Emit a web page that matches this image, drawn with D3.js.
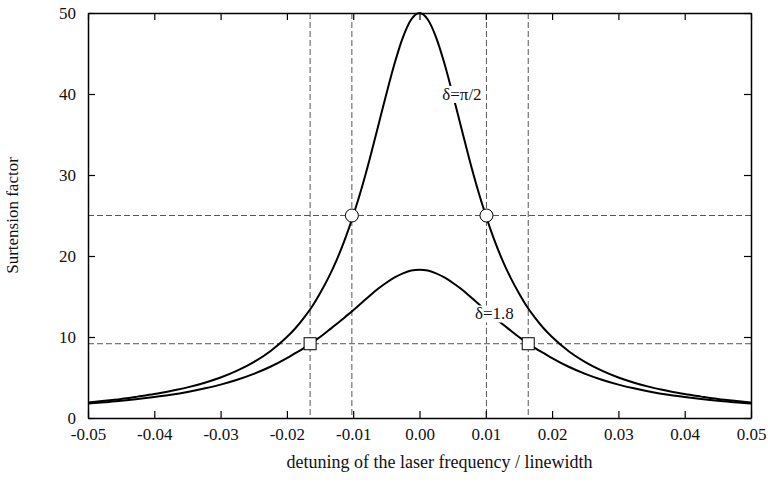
<!DOCTYPE html>
<html>
<head>
<meta charset="utf-8">
<script src="https://cdn.jsdelivr.net/npm/d3@7"></script>
<style>
  body { margin: 0; background: #fff; }
  text { font-family: "Liberation Serif", "Times New Roman", serif; fill: #111; }
</style>
</head>
<body>
<div id="chart"></div>
<script>
// detuning values (frequency / linewidth)
var detuning = [-0.05, -0.0475, -0.045, -0.0425, -0.04, -0.0375, -0.035, -0.0325, -0.03, -0.0275,
  -0.025, -0.0225, -0.02, -0.01875, -0.0175, -0.01625, -0.015, -0.01375, -0.0125, -0.01125,
  -0.01, -0.00875, -0.0075, -0.00625, -0.005, -0.00375, -0.0025, -0.00125, 0,
  0.00125, 0.0025, 0.00375, 0.005, 0.00625, 0.0075, 0.00875, 0.01,
  0.01125, 0.0125, 0.01375, 0.015, 0.01625, 0.0175, 0.01875, 0.02,
  0.0225, 0.025, 0.0275, 0.03, 0.0325, 0.035, 0.0375, 0.04, 0.0425, 0.045, 0.0475, 0.05];

// surtension for delta = pi/2
var surtPi2 = [1.92, 2.12, 2.35, 2.64, 2.95, 3.34, 3.78, 4.33, 5.0, 5.85,
  6.9, 8.25, 10.0, 11.05, 12.3, 13.7, 15.4, 17.3, 19.5, 22.05,
  25.0, 28.3, 32.0, 36.0, 40.0, 43.8, 47.0, 49.2, 50.0,
  49.2, 47.0, 43.8, 40.0, 36.0, 32.0, 28.3, 25.0,
  22.05, 19.5, 17.3, 15.4, 13.7, 12.3, 11.05, 10.0,
  8.25, 6.9, 5.85, 5.0, 4.33, 3.78, 3.34, 2.95, 2.64, 2.35, 2.12, 1.92];

// surtension for delta = 1.8
var surt18 = [1.78, 1.95, 2.13, 2.35, 2.6, 2.88, 3.22, 3.63, 4.12, 4.72,
  5.45, 6.33, 7.4, 8.0, 8.6, 9.3, 10.0, 10.8, 11.6, 12.45,
  13.3, 14.2, 15.1, 15.95, 16.7, 17.35, 17.85, 18.2, 18.3,
  18.2, 17.85, 17.35, 16.7, 15.95, 15.1, 14.2, 13.3,
  12.45, 11.6, 10.8, 10.0, 9.3, 8.6, 8.0, 7.4,
  6.33, 5.45, 4.72, 4.12, 3.63, 3.22, 2.88, 2.6, 2.35, 2.13, 1.95, 1.78];

// half-maximum markers
var halfPi2 = [[-0.0102, 25], [0.0101, 25]];
var half18 = [[-0.0165, 9.17], [0.0164, 9.17]];

var xTicks = [-0.05, -0.04, -0.03, -0.02, -0.01, 0, 0.01, 0.02, 0.03, 0.04, 0.05];
var xTickLabels = ["-0.05", "-0.04", "-0.03", "-0.02", "-0.01", "0.00", "0.01", "0.02", "0.03", "0.04", "0.05"];
var yTicks = [0, 10, 20, 30, 40, 50];

var W = 768, H = 485;
var margin = {top: 13, right: 17, bottom: 67, left: 88};
var width = W - margin.left - margin.right,
    height = H - margin.top - margin.bottom;

var x = d3.scaleLinear().domain([-0.05, 0.05]).range([0, width]);
var y = d3.scaleLinear().domain([0, 50]).range([height, 0]);

var svg = d3.select("#chart").append("svg")
  .attr("width", W)
  .attr("height", H)
  .append("g")
  .attr("transform", "translate(" + margin.left + "," + margin.top + ")");

//dashed guide lines through the half-maximum points
var guideX = [half18[0][0], halfPi2[0][0], halfPi2[1][0], half18[1][0]];
var guideY = [halfPi2[0][1], half18[0][1]];

svg.selectAll(".vguide").data(guideX).enter().append("line")
  .attr("x1", function(d) { return x(d); })
  .attr("x2", function(d) { return x(d); })
  .attr("y1", 0).attr("y2", height)
  .attr("stroke", "#555").attr("stroke-width", 1)
  .attr("stroke-dasharray", "6,3");

svg.selectAll(".hguide").data(guideY).enter().append("line")
  .attr("x1", 0).attr("x2", width)
  .attr("y1", function(d) { return y(d); })
  .attr("y2", function(d) { return y(d); })
  .attr("stroke", "#555").attr("stroke-width", 1)
  .attr("stroke-dasharray", "6,3");

var line = d3.line()
  .x(function(d) { return x(d[0]); })
  .y(function(d) { return y(d[1]); })
  .curve(d3.curveMonotoneX);

[surtPi2, surt18].forEach(function(s) {
  svg.append("path")
    .datum(detuning.map(function(v, i) { return [v, s[i]]; }))
    .attr("fill", "none")
    .attr("stroke", "#000")
    .attr("stroke-width", 2)
    .attr("d", line);
});

// curve labels with white background
var labels = [
  {text: "\u03b4=\u03c0/2", x: 0.0064, y: 40.0},
  {text: "\u03b4=1.8", x: 0.0113, y: 12.9}
];
labels.forEach(function(l) {
  var t = svg.append("text")
    .attr("x", x(l.x)).attr("y", y(l.y))
    .attr("text-anchor", "middle")
    .attr("dy", "0.35em")
    .style("font-size", "17px")
    .text(l.text);
  var bb = t.node().getBBox();
  svg.insert("rect", function() { return t.node(); })
    .attr("x", bb.x - 1).attr("y", bb.y + 1)
    .attr("width", bb.width + 2).attr("height", bb.height - 2)
    .attr("fill", "#fff");
});

svg.selectAll(".circ").data(halfPi2).enter().append("circle")
  .attr("cx", function(d) { return x(d[0]); })
  .attr("cy", function(d) { return y(d[1]); })
  .attr("r", 6.5)
  .attr("fill", "#fff").attr("stroke", "#000").attr("stroke-width", 1);

svg.selectAll(".sq").data(half18).enter().append("rect")
  .attr("x", function(d) { return x(d[0]) - 6; })
  .attr("y", function(d) { return y(d[1]) - 6; })
  .attr("width", 12).attr("height", 12)
  .attr("fill", "#fff").attr("stroke", "#000").attr("stroke-width", 1);

//axes, ticks pointing inward on all four sides
function styleAxis(g) {
  g.selectAll(".domain").attr("stroke", "#000").attr("stroke-width", 1.5);
  g.selectAll(".tick line").attr("stroke", "#000").attr("stroke-width", 1.2);
  g.selectAll("text").style("font-size", "17px").attr("fill", "#111")
    .style("font-family", "'Liberation Serif', serif");
}

svg.append("g")
  .attr("transform", "translate(0," + height + ")")
  .call(d3.axisBottom(x).tickValues(xTicks)
    .tickFormat(function(d, i) { return xTickLabels[i]; })
    .tickSizeInner(-7).tickSizeOuter(0).tickPadding(10))
  .call(styleAxis);

svg.append("g")
  .call(d3.axisTop(x).tickValues(xTicks).tickFormat("")
    .tickSizeInner(-7).tickSizeOuter(0))
  .call(styleAxis);

svg.append("g")
  .call(d3.axisLeft(y).tickValues(yTicks)
    .tickSizeInner(-7).tickSizeOuter(0).tickPadding(12))
  .call(styleAxis);

svg.append("g")
  .attr("transform", "translate(" + width + ",0)")
  .call(d3.axisRight(y).tickValues(yTicks).tickFormat("")
    .tickSizeInner(-7).tickSizeOuter(0))
  .call(styleAxis);

svg.append("text")
  .attr("transform", "translate(" + (-70) + "," + (height / 2) + ") rotate(-90)")
  .attr("text-anchor", "middle")
  .style("font-size", "17px")
  .text("Surtension factor");

svg.append("text")
  .attr("x", width / 2 + 20)
  .attr("y", height + 50)
  .attr("text-anchor", "middle")
  .style("font-size", "18px")
  .text("detuning of the laser frequency / linewidth");
</script>
</body>
</html>
